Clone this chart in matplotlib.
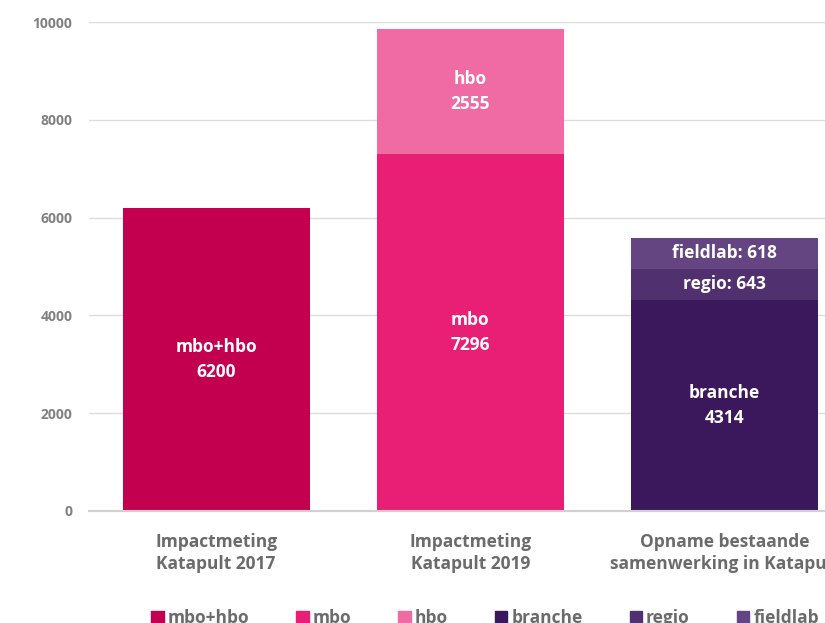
import matplotlib
matplotlib.use('Agg')
import numpy as np
import matplotlib.pyplot as plt
from matplotlib.patches import Patch

plt.rcParams['font.family'] = ['Open Sans', 'DejaVu Sans']
plt.rcParams['font.weight'] = 'bold'

# data
categories = ['Impactmeting\nKatapult 2017', 'Impactmeting\nKatapult 2019',
              'Opname bestaande\nsamenwerking in Katapult']
mbo_hbo = [6200, 0, 0]
mbo = [0, 7296, 0]
hbo = [0, 2555, 0]
branche = [0, 0, 4314]
regio = [0, 0, 643]
fieldlab = [0, 0, 618]
series_names = ['mbo+hbo', 'mbo', 'hbo', 'branche', 'regio', 'fieldlab']
series_values = [mbo_hbo, mbo, hbo, branche, regio, fieldlab]
colors = ['#C2004F', '#E91E75', '#F06BA3', '#3B185C', '#50306E', '#654581']
bar_labels = [['mbo+hbo\n6200', '', ''],
              ['', 'mbo\n7296', ''],
              ['', 'hbo\n2555', ''],
              ['', '', 'branche\n4314'],
              ['', '', 'regio: 643'],
              ['', '', 'fieldlab: 618']]

fig = plt.figure(figsize=(8.25, 6.23), dpi=100)
# axes run past the right edge, like the cropped reference
ax = fig.add_axes([89/825, 112/623, 762.5/825, 489/623])

x = np.arange(len(categories))
bottom = np.zeros(len(categories))
for name, vals, col, labs in zip(series_names, series_values, colors, bar_labels):
    vals = np.array(vals, dtype=float)
    bars = ax.bar(x, vals, 0.736, bottom=bottom, color=col, label=name, zorder=2)
    for i, b in enumerate(bars):
        if labs[i]:
            ax.text(b.get_x() + b.get_width() / 2, bottom[i] + vals[i] / 2, labs[i],
                    ha='center', va='center', color='white', fontsize=12.5,
                    fontweight='bold', linespacing=1.5, zorder=3)
    bottom += vals

ax.set_xlim(-0.5, 2.5)
ax.set_ylim(0, 10000)
ax.set_yticks(np.arange(0, 10001, 2000))
ax.set_xticks(x)
ax.set_xticklabels(categories, fontsize=12.5, color='#6b6b6b', fontweight='bold', linespacing=1.25)
ax.tick_params(axis='y', length=0, pad=12, labelsize=10, labelcolor='#808080')
ax.tick_params(axis='x', length=0, pad=16)
for t in ax.get_yticklabels():
    t.set_fontweight('bold')
ax.grid(axis='y', color='#dddddd', linewidth=1, zorder=0)
for s in ['top', 'right', 'left']:
    ax.spines[s].set_visible(False)
ax.spines['bottom'].set_color('#d0d0d0')
ax.spines['bottom'].set_linewidth(1.5)

handles = [Patch(color=c) for c in colors]
leg = fig.legend(handles, series_names, loc='center', bbox_to_anchor=(0.588, 0.008),
                 ncol=6, frameon=False, fontsize=12.5, handlelength=0.7, handleheight=0.7,
                 handletextpad=0.25, columnspacing=2.7)
for t in leg.get_texts():
    t.set_color('#6b6b6b')
    t.set_fontweight('bold')

fig.savefig('out.png', dpi=100)
